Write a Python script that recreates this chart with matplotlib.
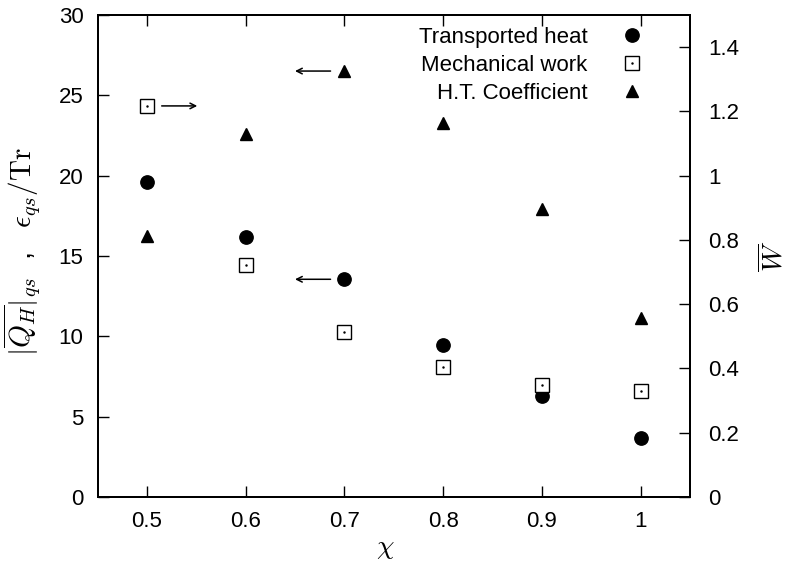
import numpy as np
import matplotlib.pyplot as plt
from matplotlib.legend_handler import HandlerTuple

plt.rcParams['font.family'] = ['Liberation Sans', 'DejaVu Sans']
plt.rcParams['mathtext.fontset'] = 'cm'

# chi values and the three measured quantities
chi = [0.5, 0.6, 0.7, 0.8, 0.9, 1.0]
heat = [19.62, 16.18, 13.55, 9.48, 6.29, 3.69]          # left axis
ht_coef = [16.26, 22.57, 26.51, 23.29, 17.94, 11.16]    # left axis
work = [1.217, 0.722, 0.513, 0.406, 0.350, 0.331]       # right axis

left_ticks = [0, 5, 10, 15, 20, 25, 30]
right_ticks = [0, 0.2, 0.4, 0.6, 0.8, 1.0, 1.2, 1.4]
x_ticks = [0.5, 0.6, 0.7, 0.8, 0.9, 1.0]
x_ticklabels = ['0.5', '0.6', '0.7', '0.8', '0.9', '1']
right_ticklabels = ['0', '0.2', '0.4', '0.6', '0.8', '1', '1.2', '1.4']

fig = plt.figure(figsize=(7.87, 5.61), dpi=100)
ax = fig.add_axes([0.1239, 0.1141, 0.7528, 0.8592])
ax2 = ax.twinx()

h_heat, = ax.plot(chi, heat, 'o', color='black', ms=9.6, ls='none')
h_ht, = ax.plot(chi, ht_coef, '^', color='black', ms=9.2, ls='none')
h_sq, = ax2.plot(chi, work, 's', mfc='white', mec='black', mew=1.0, ms=9.6, ls='none')
h_dot, = ax2.plot(chi, work, '.', color='black', ms=1.5, ls='none')

ax.set_xlim(0.45, 1.05)
ax.set_ylim(0, 30)
ax2.set_ylim(0, 1.5)

ax.set_xticks(x_ticks)
ax.set_xticklabels(x_ticklabels)
ax.set_yticks(left_ticks)
ax2.set_yticks(right_ticks)
ax2.set_yticklabels(right_ticklabels)

for a in (ax, ax2):
    for s in a.spines.values():
        s.set_linewidth(1.4)

ax.tick_params(axis='both', direction='in', length=8, width=1, labelsize=16)
ax.tick_params(axis='x', top=True, pad=10)
ax.tick_params(axis='y', right=False, pad=10)
ax2.tick_params(axis='y', direction='in', length=8, width=1, labelsize=16, pad=13)

ax.set_xlabel(r'$\chi$', fontsize=20)
ax.xaxis.set_label_coords(0.485, -0.079)
ax.set_ylabel(r'$|\overline{Q_H}|_{qs}$  ,   $\epsilon_{qs}/\mathrm{Tr}$', fontsize=21)
ax.yaxis.set_label_coords(-0.094, 0.51)
ax2.set_ylabel(r'$\overline{W}$', fontsize=20)
ax2.yaxis.set_label_coords(1.116, 0.50)

# arrows telling which axis each series belongs to
arrow = dict(arrowstyle='->', lw=1.1, color='black', shrinkA=0, shrinkB=0)
ax2.annotate('', xy=(chi[0] + 0.051, work[0]), xytext=(chi[0] + 0.015, work[0]), arrowprops=arrow)
ax.annotate('', xy=(chi[2] - 0.05, ht_coef[2]), xytext=(chi[2] - 0.014, ht_coef[2]), arrowprops=arrow)
ax.annotate('', xy=(chi[2] - 0.05, heat[2]), xytext=(chi[2] - 0.014, heat[2]), arrowprops=arrow)

leg = ax.legend([h_heat, (h_sq, h_dot), h_ht],
                ['Transported heat', 'Mechanical work', 'H.T. Coefficient'],
                handler_map={tuple: HandlerTuple(ndivide=1, pad=0)},
                markerfirst=False, frameon=False, loc='upper right',
                bbox_to_anchor=(0.9266, 0.976), borderaxespad=0, borderpad=0,
                handlelength=1.3, handletextpad=1.35, labelspacing=0.32,
                fontsize=16)

fig.savefig('out.png', dpi=100)
